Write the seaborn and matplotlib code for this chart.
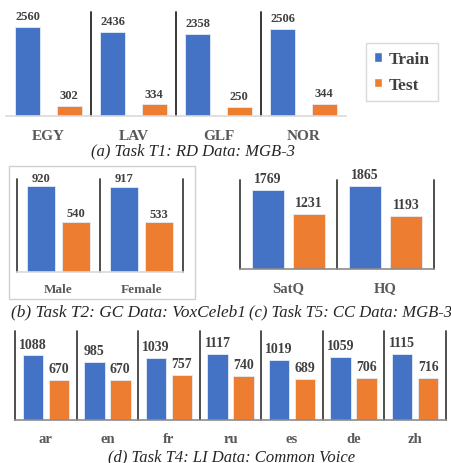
import matplotlib
matplotlib.use("Agg")
import matplotlib.pyplot as plt
import seaborn as sns
import pandas as pd
from matplotlib.patches import Patch, Rectangle

# values
dialects = ["EGY", "LAV", "GLF", "NOR"]
dialect_train = [2560, 2436, 2358, 2506]
dialect_test = [302, 334, 250, 344]

genders = ["Male", "Female"]
gender_train = [920, 917]
gender_test = [540, 533]

qualities = ["SatQ", "HQ"]
quality_train = [1769, 1865]
quality_test = [1231, 1193]

languages = ["ar", "en", "fr", "ru", "es", "de", "zh"]
language_train = [1088, 985, 1039, 1117, 1019, 1059, 1115]
language_test = [670, 670, 757, 740, 689, 706, 716]

captions = ["(a) Task T1: RD Data: MGB-3",
            "(b) Task T2: GC Data: VoxCeleb1",
            "(c) Task T5: CC Data: MGB-3",
            "(d) Task T4: LI Data: Common Voice"]

BLUE = "#4472C4"
ORANGE = "#ED7D31"
TXT = "#404040"

sns.set_style("white")
plt.rcParams["font.family"] = ["Liberation Serif", "DejaVu Sans"]

W, H = 452, 464
fig = plt.figure(figsize=(W / 100, H / 100), dpi=100)


def px_axes(left, top, right, bottom):
    return fig.add_axes([left / W, 1 - bottom / H, (right - left) / W, (bottom - top) / H])


def make_df(cats, train, test):
    return pd.DataFrame({
        "cat": cats * 2,
        "count": train + test,
        "split": ["Train"] * len(cats) + ["Test"] * len(cats),
    })


def draw_panel(ax, cats, train, test, ymax, width, gap, val_size, cat_size,
               seps, sep_color, bottom_color, pad, val_pad):
    df = make_df(cats, train, test)
    sns.barplot(data=df, x="cat", y="count", hue="split", hue_order=["Train", "Test"],
                palette={"Train": BLUE, "Test": ORANGE}, width=width, gap=gap,
                saturation=1, edgecolor="#e6ecf5", linewidth=0.6, legend=False, ax=ax)
    for cont in ax.containers:
        ax.bar_label(cont, fmt="%d", fontsize=val_size, fontweight="bold",
                     color=TXT, padding=val_pad)
    ax.set_ylim(0, ymax)
    ax.set_xlim(-0.5, len(cats) - 0.5)
    ax.set_yticks([])
    ax.set_xlabel("")
    ax.set_ylabel("")
    for s in ["left", "right", "top"]:
        ax.spines[s].set_visible(False)
    ax.spines["bottom"].set_color(bottom_color)
    ax.spines["bottom"].set_linewidth(1.2)
    for x in seps:
        ax.axvline(x, color=sep_color, lw=1.3, clip_on=False)
    ax.tick_params(axis="x", length=0, pad=pad, labelsize=cat_size, labelcolor="#595959")
    for lab in ax.get_xticklabels():
        lab.set_fontweight("bold")
    ax.patch.set_alpha(0)


ax_a = px_axes(6, 13, 346, 117)
draw_panel(ax_a, dialects, dialect_train, dialect_test, 3000, 0.98, 0.41, 9, 11,
           [0.5, 1.5, 2.5], "#262626", "#d9d9d9", 9.5, 3.5)

ax_b = px_axes(17, 180, 183, 273)
draw_panel(ax_b, genders, gender_train, gender_test, 1000, 0.84, 0.21, 9, 9.5,
           [-0.5, 0.5, 1.5], "#404040", "#d9d9d9", 8, 2)

ax_c = px_axes(240, 181, 434, 270)
draw_panel(ax_c, qualities, quality_train, quality_test, 2000, 0.84, 0.21, 10, 10.5,
           [-0.5, 0.5, 1.5], "#404040", "#8c8c8c", 8.5, 3.5)

ax_d = px_axes(15, 332, 446, 421)
draw_panel(ax_d, languages, language_train, language_test, 1500, 0.84, 0.21, 10, 10.5,
           [i - 0.5 for i in range(len(languages) + 1)], "#404040", "#8c8c8c", 8.5, 3.5)

# light frame around panel (b)
fig.patches.append(Rectangle((9 / W, 1 - 300 / H), (195 - 9) / W, (300 - 167) / H,
                             transform=fig.transFigure, fill=False,
                             edgecolor="#d0d0d0", lw=1))

handles = [Patch(facecolor=BLUE), Patch(facecolor=ORANGE)]
leg = fig.legend(handles, ["Train", "Test"], loc="center",
                 bbox_to_anchor=(402 / W, 1 - 73 / H),
                 prop={"weight": "bold", "size": 12.5},
                 handlelength=0.45, handleheight=0.45, handletextpad=0.4,
                 labelspacing=0.55, borderpad=0.45, fancybox=False,
                 edgecolor="#d9d9d9", framealpha=1)
leg.get_frame().set_linewidth(1)
for t in leg.get_texts():
    t.set_color(TXT)

cap_pos = [(193, 151, 12), (128.5, 312, 12.4), (351, 312, 12), (232, 457, 12)]
for text, (cx, cy, fs) in zip(captions, cap_pos):
    fig.text(cx / W, 1 - cy / H, text, ha="center", va="center",
             fontsize=fs, style="italic", color="#262626")

fig.savefig("out.png", dpi=100)
